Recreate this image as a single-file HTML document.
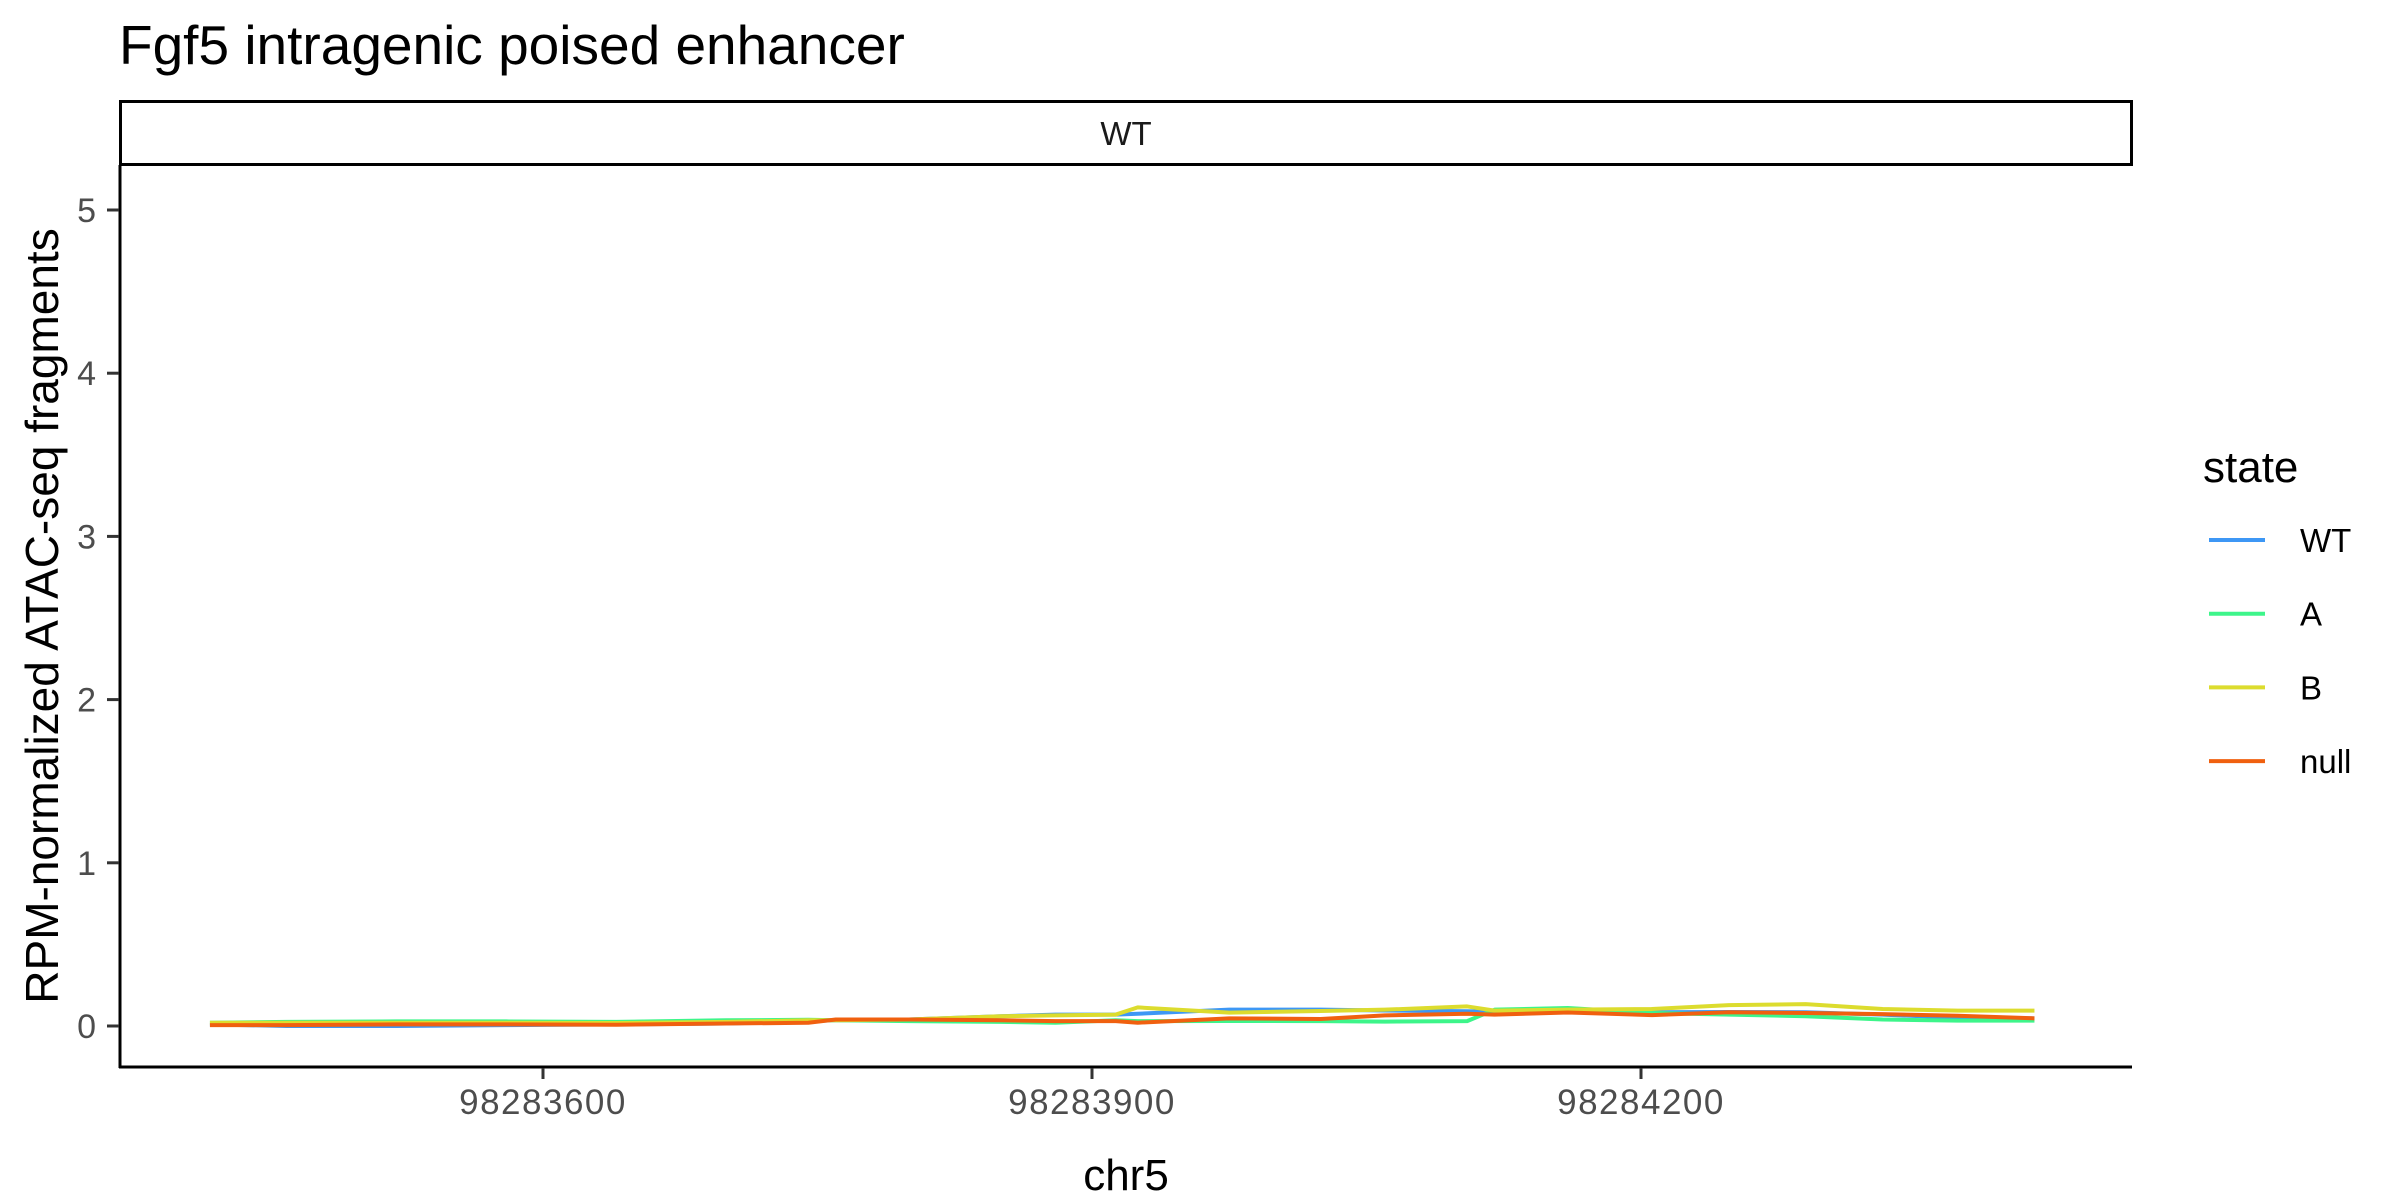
<!DOCTYPE html>
<html><head><meta charset="utf-8"><style>body{margin:0;background:#fff}svg{display:block;font-family:"Liberation Sans",sans-serif}</style></head>
<body>
<svg id="chart" width="2400" height="1200" viewBox="0 0 2400 1200">
<text x="119" y="64" font-size="55" fill="#000">Fgf5 intragenic poised enhancer</text>
<rect x="120.5" y="101.5" width="2011" height="63" fill="none" stroke="#000" stroke-width="3"/>
<text x="1126" y="145" font-size="33" text-anchor="middle" fill="#1a1a1a">WT</text>
<g id="series"></g>
<line x1="120" y1="165" x2="120" y2="1068" stroke="#000" stroke-width="3"/>
<line x1="119" y1="1067" x2="2132" y2="1067" stroke="#000" stroke-width="3"/>
<g id="yaxis"></g>
<g id="xaxis"></g>
<text x="1126" y="1190" font-size="44" text-anchor="middle" fill="#000">chr5</text>
<text transform="translate(58,616) rotate(-90)" font-size="46" text-anchor="middle" fill="#000">RPM-normalized ATAC-seq fragments</text>
<text x="2203" y="482" font-size="44" fill="#000">state</text>
<g id="legend"></g>
</svg>
<script>
const positions = [18,60,120,180,240,300,345,360,400,450,480,513,525,575,625,660,705,720,760,806,848,890,932,973,1015];
const basePos = 98283400;
const seriesNames = ["WT","A","B","null"];
const valuesWT = [0.01,0.0,0.0,0.005,0.01,0.015,0.03,0.035,0.04,0.06,0.07,0.07,0.075,0.1,0.1,0.095,0.09,0.088,0.085,0.084,0.086,0.084,0.07,0.05,0.047];
const valuesA = [0.02,0.025,0.028,0.028,0.025,0.035,0.038,0.035,0.03,0.025,0.02,0.035,0.03,0.031,0.03,0.027,0.03,0.1,0.11,0.08,0.07,0.06,0.04,0.033,0.033];
const valuesB = [0.02,0.02,0.02,0.02,0.018,0.025,0.035,0.035,0.04,0.06,0.065,0.07,0.114,0.082,0.092,0.1,0.12,0.094,0.1,0.104,0.128,0.134,0.104,0.094,0.094];
const valuesNull = [0.005,0.005,0.01,0.01,0.008,0.015,0.02,0.04,0.04,0.035,0.03,0.03,0.02,0.047,0.043,0.065,0.075,0.07,0.083,0.067,0.084,0.08,0.073,0.063,0.047];
const yTicks = [0,1,2,3,4,5];
const xTicks = [98283600,98283900,98284200];
const colors = ["#3d97f5","#3df58a","#dcdc2e","#f0600f"];
const NS="http://www.w3.org/2000/svg";
function xs(bp){return 543+(bp-98283600)*(1098/600);}
function ys(v){return 1026-v*(816/5);}
const allVals=[valuesWT,valuesA,valuesB,valuesNull];
const g=document.getElementById('series');
allVals.forEach((vals,i)=>{
  let d="";
  positions.forEach((p,j)=>{
    const x=xs(basePos+p), y=ys(vals[j]);
    d+=(j===0?"M":" L")+x+","+y;
  });
  const path=document.createElementNS(NS,'path');
  path.setAttribute('d',d);path.setAttribute('fill','none');
  path.setAttribute('stroke',colors[i]);path.setAttribute('stroke-width','4');
  path.setAttribute('stroke-linejoin','round');
  
  
  g.appendChild(path);
});
const ya=document.getElementById('yaxis');
yTicks.forEach(t=>{
  const y=ys(t);
  const l=document.createElementNS(NS,'line');
  l.setAttribute('x1',107);l.setAttribute('x2',119);l.setAttribute('y1',y);l.setAttribute('y2',y);
  l.setAttribute('stroke','#333');l.setAttribute('stroke-width','3');
  
  
  ya.appendChild(l);
  const tx=document.createElementNS(NS,'text');
  tx.setAttribute('x',96);tx.setAttribute('y',y+12);tx.setAttribute('text-anchor','end');
  tx.setAttribute('font-size','34');tx.setAttribute('fill','#4d4d4d');tx.textContent=t;
  
  
  ya.appendChild(tx);
});
const xa=document.getElementById('xaxis');
xTicks.forEach(t=>{
  const x=xs(t);
  const l=document.createElementNS(NS,'line');
  l.setAttribute('x1',x);l.setAttribute('x2',x);l.setAttribute('y1',1068);l.setAttribute('y2',1079);
  l.setAttribute('stroke','#333');l.setAttribute('stroke-width','3');
  
  
  xa.appendChild(l);
  const tx=document.createElementNS(NS,'text');
  tx.setAttribute('x',x);tx.setAttribute('y',1114);tx.setAttribute('text-anchor','middle');
  tx.setAttribute('font-size','35');tx.setAttribute('letter-spacing','1.5');tx.setAttribute('fill','#4d4d4d');tx.textContent=t;
  
  
  xa.appendChild(tx);
});
const lg=document.getElementById('legend');
seriesNames.forEach((n,i)=>{
  const y=540+i*73.7;
  const l=document.createElementNS(NS,'line');
  l.setAttribute('x1',2209);l.setAttribute('x2',2265);l.setAttribute('y1',y);l.setAttribute('y2',y);
  l.setAttribute('stroke',colors[i]);l.setAttribute('stroke-width','4');
  
  
  lg.appendChild(l);
  const tx=document.createElementNS(NS,'text');
  tx.setAttribute('x',2300);tx.setAttribute('y',y+12);tx.setAttribute('font-size','33');
  tx.setAttribute('fill','#000');tx.textContent=n;
  
  
  lg.appendChild(tx);
});
</script>
</body></html>
